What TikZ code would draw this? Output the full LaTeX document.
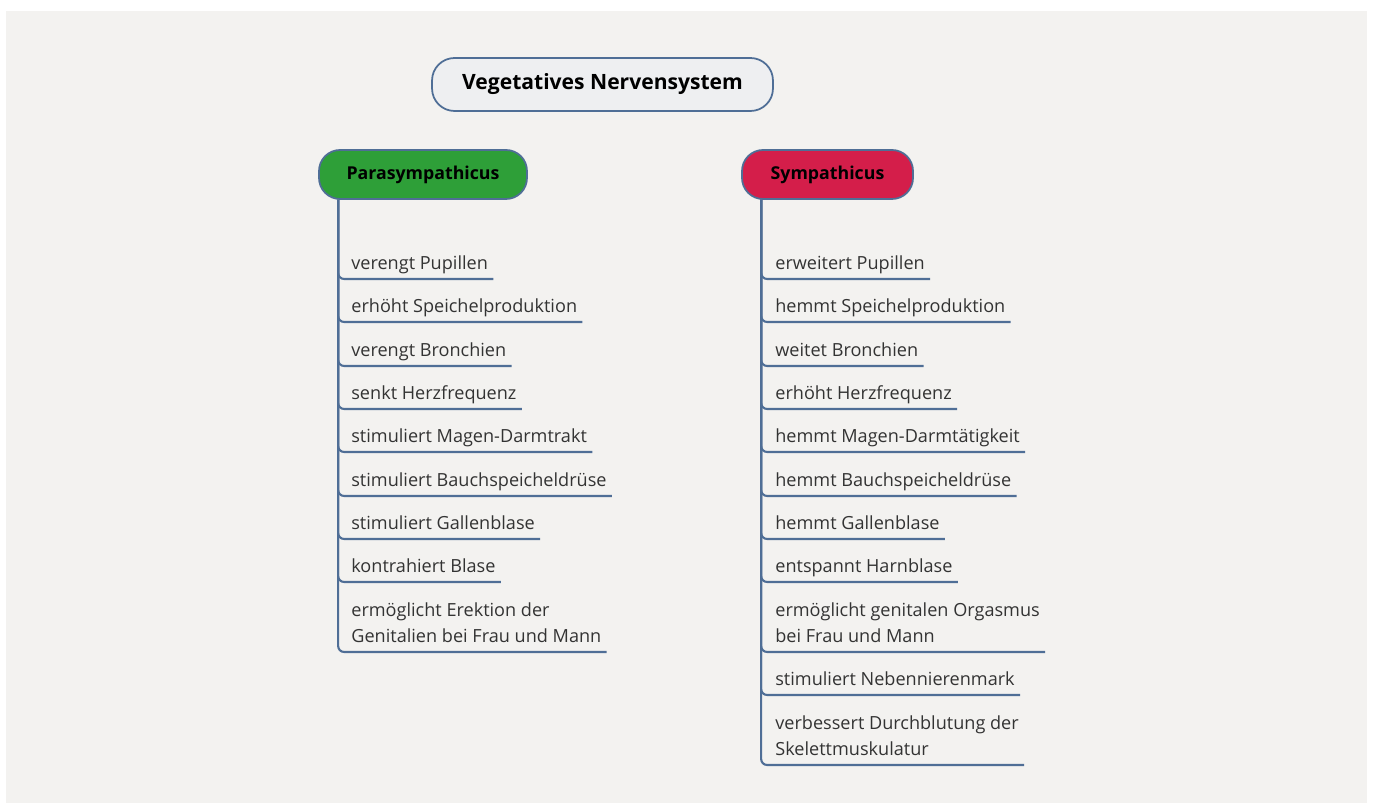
\documentclass[tikz,border=0pt]{standalone}
\usepackage{fontspec}
\setmainfont{Open Sans}
\definecolor{paper}{HTML}{F3F2F0}
\definecolor{rim}{HTML}{4F6E96}
\definecolor{topicfill}{HTML}{EEEFF1}
\definecolor{parafill}{HTML}{2E9F38}
\definecolor{sympfill}{HTML}{D41E4A}
\definecolor{ink}{HTML}{333333}

\tikzset{
  topic/.style={draw=rim,line width=1pt,rounded corners=0.45cm,font=\bfseries\fontsize{12}{14}\selectfont,minimum height=1.06cm},
  branchbox/.style={draw=rim,line width=1pt,rounded corners=0.42cm,font=\bfseries\fontsize{10.1}{12}\selectfont,minimum height=0.98cm},
  item/.style={anchor=south west,align=left,inner xsep=0.1cm,inner ysep=0pt,text depth=0.18cm,text=ink,font=\fontsize{10.3}{14.7}\selectfont},
  branch/.style={draw=rim,line width=1.2pt,rounded corners=0.12cm}
}

\begin{document}
\begin{tikzpicture}[x=0.02cm,y=-0.02cm]
    \fill[white] (0,0) rectangle (1375,803);
    \fill[paper] (6,11) rectangle (1367,803);
    \node[topic,fill=topicfill,minimum width=6.82cm] (VNS) at (602.5,84.5) {Vegetatives Nervensystem};
    \node[branchbox,fill=parafill,minimum width=4.16cm] (P) at (423,174.5) {Parasympathicus};
    \node[branchbox,fill=sympfill,minimum width=3.42cm] (S) at (827.5,174.5) {Sympathicus};
    % Parasympathicus
    \foreach[count=\i] \y/\t in {279/verengt Pupillen,322/erhöht Speichelproduktion,366/verengt Bronchien,409/senkt Herzfrequenz,452/stimuliert Magen-Darmtrakt,496/stimuliert Bauchspeicheldrüse,539/stimuliert Gallenblase,582/kontrahiert Blase,652/ermöglicht Erektion der\\Genitalien bei Frau und Mann}{
        \node[item] (p\i) at (346,\y) {\t};
        \draw[branch] ([xshift=0.4cm]P.south west) |- (p\i.south east);
    }
    % Sympathicus
    \foreach[count=\i] \y/\t in {279/erweitert Pupillen,322/hemmt Speichelproduktion,366/weitet Bronchien,409/erhöht Herzfrequenz,452/hemmt Magen-Darmtätigkeit,496/hemmt Bauchspeicheldrüse,539/hemmt Gallenblase,582/entspannt Harnblase,652/ermöglicht genitalen Orgasmus\\bei Frau und Mann,695/stimuliert Nebennierenmark,765/verbessert Durchblutung der\\Skelettmuskulatur}{
        \node[item] (s\i) at (770,\y) {\t};
        \draw[branch] ([xshift=0.4cm]S.south west) |- (s\i.south east);
    }
\end{tikzpicture}
\end{document}
